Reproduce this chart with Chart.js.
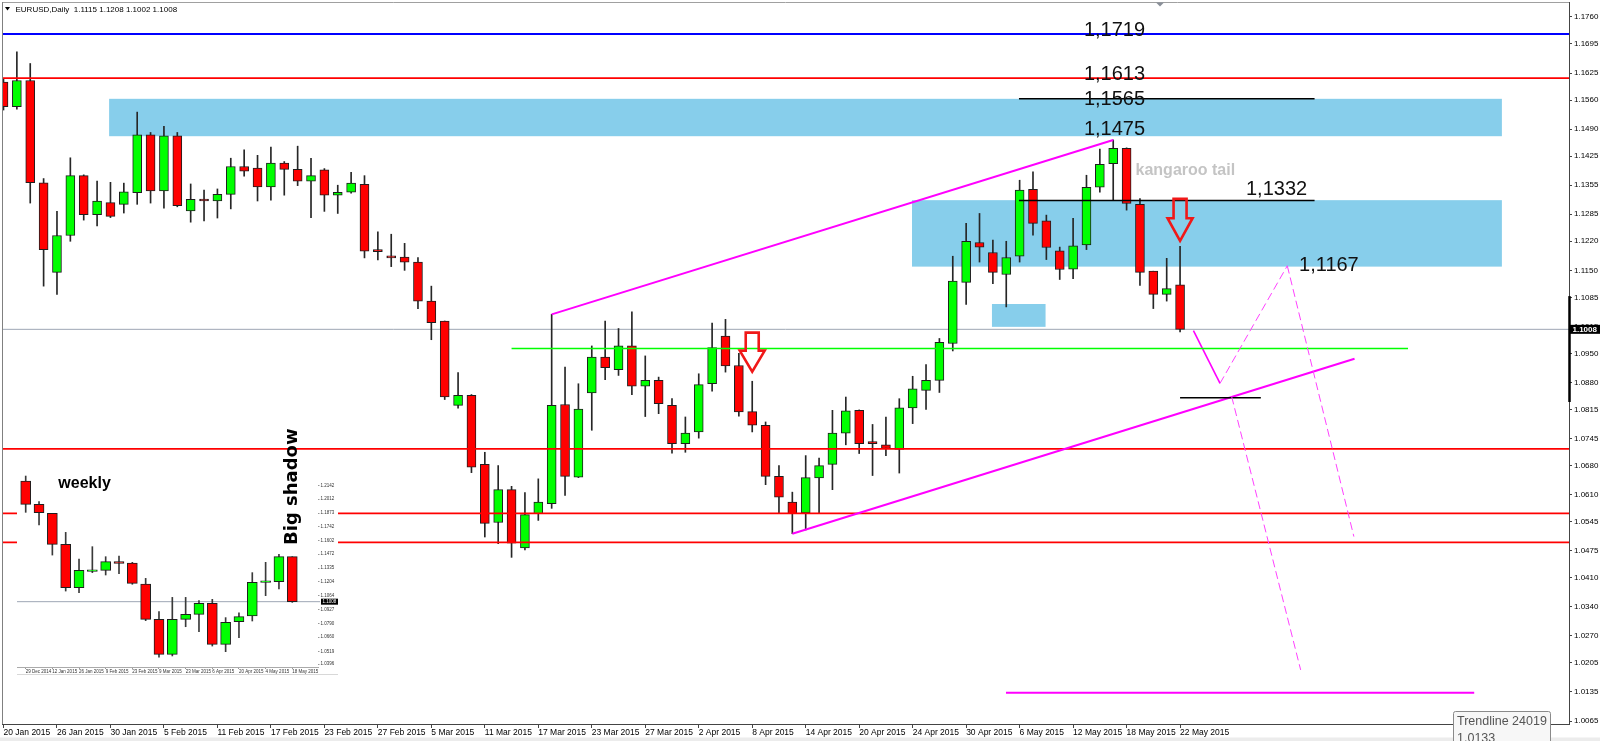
<!DOCTYPE html>
<html>
<head>
<meta charset="utf-8">
<title>EURUSD Daily</title>
<script src="https://cdn.jsdelivr.net/npm/chart.js@4.4.1/dist/chart.umd.min.js"></script>
<style>
  html, body { margin: 0; padding: 0; background: #fff; overflow: hidden; }
  #wrap { position: relative; width: 1600px; height: 741px; }
  #main { position: absolute; left: 0; top: 0; }
  #weekly { position: absolute; left: 17px; top: 420px; }
</style>
</head>
<body>
<div id="wrap">
  <canvas id="main" width="1600" height="741"></canvas>
  <canvas id="weekly" width="321" height="255"></canvas>
</div>
<script>
// ---- daily bars, 20 Jan 2015 .. 22 May 2015 ----
const dates = [
  "20 Jan 2015","21 Jan 2015","22 Jan 2015","23 Jan 2015","26 Jan 2015","27 Jan 2015","28 Jan 2015","29 Jan 2015",
  "30 Jan 2015","2 Feb 2015","3 Feb 2015","4 Feb 2015","5 Feb 2015","6 Feb 2015","9 Feb 2015","10 Feb 2015",
  "11 Feb 2015","12 Feb 2015","13 Feb 2015","16 Feb 2015","17 Feb 2015","18 Feb 2015","19 Feb 2015","20 Feb 2015",
  "23 Feb 2015","24 Feb 2015","25 Feb 2015","26 Feb 2015","27 Feb 2015","2 Mar 2015","3 Mar 2015","4 Mar 2015",
  "5 Mar 2015","6 Mar 2015","9 Mar 2015","10 Mar 2015","11 Mar 2015","12 Mar 2015","13 Mar 2015","16 Mar 2015",
  "17 Mar 2015","18 Mar 2015","19 Mar 2015","20 Mar 2015","23 Mar 2015","24 Mar 2015","25 Mar 2015","26 Mar 2015",
  "27 Mar 2015","30 Mar 2015","31 Mar 2015","1 Apr 2015","2 Apr 2015","3 Apr 2015","6 Apr 2015","7 Apr 2015",
  "8 Apr 2015","9 Apr 2015","10 Apr 2015","13 Apr 2015","14 Apr 2015","15 Apr 2015","16 Apr 2015","17 Apr 2015",
  "20 Apr 2015","21 Apr 2015","22 Apr 2015","23 Apr 2015","24 Apr 2015","27 Apr 2015","28 Apr 2015","29 Apr 2015",
  "30 Apr 2015","1 May 2015","4 May 2015","5 May 2015","6 May 2015","7 May 2015","8 May 2015","11 May 2015",
  "12 May 2015","13 May 2015","14 May 2015","15 May 2015","18 May 2015","19 May 2015","20 May 2015","21 May 2015",
  "22 May 2015"
];
const open = [
  1.1603,1.1544,1.1607,1.1361,1.1145,1.1234,1.1378,1.1284,1.1313,1.1309,1.1337,1.1476,1.1341,1.1474,1.1293,1.1321,
  1.1317,1.1333,1.1400,1.1396,1.1351,1.1408,1.1393,1.1365,1.1392,1.1331,1.1338,1.1357,1.1197,1.1182,1.1182,1.1170,
  1.1076,1.1028,1.0825,1.0849,1.0683,1.0543,1.0622,1.0482,1.0564,1.0588,1.0827,1.0652,1.0855,1.0941,1.0911,1.0968,
  1.0871,1.0885,1.0825,1.0733,1.0761,1.0877,1.0992,1.0921,1.0810,1.0777,1.0654,1.0592,1.0566,1.0650,1.0683,1.0758,
  1.0813,1.0738,1.0730,1.0719,1.0819,1.0861,1.0885,1.0974,1.1121,1.1217,1.1193,1.1140,1.1184,1.1345,1.1269,1.1197,
  1.1153,1.1211,1.1350,1.1407,1.1444,1.1309,1.1148,1.1092,1.1115
];
const high = [
  1.1611,1.1676,1.1648,1.1371,1.1292,1.1421,1.1380,1.1365,1.1362,1.1360,1.1531,1.1482,1.1497,1.1482,1.1358,1.1343,
  1.1346,1.1420,1.1440,1.1427,1.1447,1.1412,1.1449,1.1420,1.1395,1.1355,1.1386,1.1378,1.1243,1.1237,1.1215,1.1181,
  1.1112,1.1028,1.0904,1.0851,1.0712,1.0680,1.0630,1.0615,1.0648,1.1044,1.0917,1.0877,1.0968,1.1028,1.1010,1.1050,
  1.0944,1.0893,1.0841,1.0797,1.0901,1.1023,1.1032,1.0950,1.0883,1.0785,1.0680,1.0616,1.0704,1.0698,1.0813,1.0845,
  1.0814,1.0779,1.0797,1.0841,1.0895,1.0923,1.0986,1.1184,1.1263,1.1287,1.1223,1.1220,1.1367,1.1387,1.1283,1.1206,
  1.1275,1.1379,1.1442,1.1464,1.1445,1.1323,1.1148,1.1179,1.1208
];
const low = [
  1.1536,1.1538,1.1312,1.1112,1.1092,1.1220,1.1271,1.1257,1.1277,1.1288,1.1309,1.1312,1.1300,1.1303,1.1266,1.1269,
  1.1276,1.1298,1.1377,1.1317,1.1319,1.1331,1.1354,1.1277,1.1292,1.1287,1.1336,1.1180,1.1175,1.1159,1.1150,1.1058,
  1.0983,1.0839,1.0818,1.0663,1.0508,1.0492,1.0459,1.0477,1.0548,1.0577,1.0608,1.0651,1.0765,1.0887,1.0897,1.0851,
  1.0798,1.0805,1.0710,1.0712,1.0746,1.0859,1.0905,1.0799,1.0761,1.0634,1.0564,1.0516,1.0525,1.0565,1.0622,1.0730,
  1.0709,1.0656,1.0704,1.0662,1.0781,1.0815,1.0856,1.0956,1.1068,1.1170,1.1118,1.1062,1.1170,1.1235,1.1176,1.1128,
  1.1130,1.1200,1.1338,1.1319,1.1295,1.1114,1.1058,1.1076,1.1002
];
const close = [
  1.1544,1.1607,1.1361,1.1200,1.1234,1.1378,1.1284,1.1317,1.1280,1.1339,1.1476,1.1341,1.1474,1.1306,1.1321,1.1317,
  1.1333,1.1400,1.1389,1.1351,1.1408,1.1393,1.1365,1.1378,1.1331,1.1338,1.1360,1.1196,1.1195,1.1180,1.1170,1.1076,
  1.1024,1.0845,1.0849,1.0676,1.0541,1.0622,1.0493,1.0562,1.0592,1.0825,1.0654,1.0816,1.0941,1.0916,1.0968,1.0871,
  1.0885,1.0829,1.0733,1.0758,1.0875,1.0964,1.0920,1.0809,1.0777,1.0654,1.0604,1.0564,1.0651,1.0680,1.0758,1.0812,
  1.0733,1.0733,1.0721,1.0819,1.0865,1.0885,1.0977,1.1124,1.1220,1.1206,1.1145,1.1181,1.1343,1.1263,1.1205,1.1152,
  1.1209,1.1350,1.1405,1.1444,1.1311,1.1145,1.1092,1.1106,1.1008
];
const priceTicks = [
  1.1760,1.1695,1.1625,1.1560,1.1490,1.1425,1.1355,1.1285,1.1220,1.1150,1.1085,1.1015,1.0950,
  1.0880,1.0815,1.0745,1.0680,1.0610,1.0545,1.0475,1.0410,1.0340,1.0270,1.0205,1.0135,1.0065
];
const dateTicks = [0,4,8,12,16,20,24,28,32,36,40,44,48,52,56,60,64,68,72,76,80,84,88];
const lastPrice = 1.1008;

// ---- weekly inset ----
const wDates = [
  "29 Dec 2014","5 Jan 2015","12 Jan 2015","19 Jan 2015","26 Jan 2015","2 Feb 2015","9 Feb 2015",
  "16 Feb 2015","23 Feb 2015","2 Mar 2015","9 Mar 2015","16 Mar 2015","23 Mar 2015","30 Mar 2015",
  "6 Apr 2015","13 Apr 2015","20 Apr 2015","27 Apr 2015","4 May 2015","11 May 2015","18 May 2015"
];
const wOpen  = [1.2188,1.1960,1.1872,1.1569,1.1145,1.1305,1.1314,1.1399,1.1386,1.1181,1.0835,1.0493,1.0835,1.0884,1.0992,1.0591,1.0812,1.0868,1.1197,1.1204,1.1448];
const wHigh  = [1.2237,1.1986,1.1872,1.1686,1.1425,1.1546,1.1448,1.1455,1.1393,1.1236,1.0910,1.1050,1.1050,1.1018,1.1031,1.0852,1.0900,1.1292,1.1393,1.1471,1.1448];
const wLow   = [1.1882,1.1758,1.1464,1.1112,1.1096,1.1292,1.1269,1.1282,1.1178,1.0822,1.0464,1.0477,1.0763,1.0715,1.0574,1.0519,1.0656,1.0819,1.1067,1.1132,1.1001];
const wClose = [1.1960,1.1878,1.1569,1.1145,1.1314,1.1312,1.1399,1.1383,1.1187,1.0835,1.0493,1.0835,1.0884,1.0992,1.0591,1.0806,1.0861,1.1197,1.1200,1.1448,1.1008];
const wTicks = [1.2142,1.2012,1.1873,1.1742,1.1602,1.1472,1.1335,1.1204,1.1064,1.0927,1.0790,1.0660,1.0519,1.0396];
const wDateTicks = [0,2,4,6,8,10,12,14,16,18,20];

// ---- objects drawn on the daily chart (bar index, price) ----
const zones = [
  { from: 7.9,   to: 112.07, top: 1.1563, bottom: 1.1473 },
  { from: 67.95, to: 112.07, top: 1.1319, bottom: 1.1159 },
  { from: 73.93, to: 77.94,  top: 1.1069, bottom: 1.1014 }
];
const levels = [
  { price: 1.1719, color: "#0000ff" },
  { price: 1.1613, color: "#ff0000" },
  { price: 1.0720, color: "#ff0000" },
  { price: 1.0565, color: "#ff0000" },
  { price: 1.0495, color: "#ff0000" }
];
const trendlines = [
  { x0: 41,    p0: 1.1044, x1: 83,     p1: 1.1464, color: "#ff00ff", w: 2 },
  { x0: 59,    p0: 1.0516, x1: 101.05, p1: 1.0937, color: "#ff00ff", w: 2 },
  { x0: 89.0,  p0: 1.1005, x1: 90.99,  p1: 1.0878, color: "#ff00ff", w: 1.6 },
  { x0: 74.98, p0: 1.0133, x1: 110.0,  p1: 1.0133, color: "#ff00ff", w: 2 },
  { x0: 38.0,  p0: 1.0962, x1: 105.05, p1: 1.0962, color: "#00ff00", w: 1.5 },
  { x0: 75.95, p0: 1.1563, x1: 98.06,  p1: 1.1563, color: "#000000", w: 1.5 },
  { x0: 75.95, p0: 1.1318, x1: 98.06,  p1: 1.1318, color: "#000000", w: 1.5 },
  { x0: 88.0,  p0: 1.0843, x1: 94.04,  p1: 1.0843, color: "#000000", w: 1.5 }
];
const dashedLines = [
  { x0: 90.99, p0: 1.0878, x1: 96.02, p1: 1.1161 },
  { x0: 96.02, p0: 1.1161, x1: 101.0, p1: 1.0509 },
  { x0: 91.86, p0: 1.0846, x1: 97.02, p1: 1.0188 }
];
const arrows = [
  { x: 56, top: 1.1000, tip: 1.0906 },
  { x: 88, top: 1.1322, tip: 1.1221 }
];
const notes = [
  { text: "1,1719", x: 80.81, p: 1.17135 },
  { text: "1,1613", x: 80.81, p: 1.16090 },
  { text: "1,1565", x: 80.81, p: 1.15481 },
  { text: "1,1475", x: 80.81, p: 1.14759 },
  { text: "1,1332", x: 92.93, p: 1.13322 },
  { text: "1,1167", x: 96.9,  p: 1.11492 }
];

const F = '"Liberation Sans", Arial, sans-serif';
Chart.defaults.font.family = F;
const upColor = "#00ff00";
const downColor = "#ff0000";

function seg(ctx, x0, y0, x1, y1, color, width, dash) {
  ctx.save();
  ctx.strokeStyle = color;
  ctx.lineWidth = width;
  ctx.setLineDash(dash || []);
  ctx.beginPath();
  ctx.moveTo(x0, y0);
  ctx.lineTo(x1, y1);
  ctx.stroke();
  ctx.restore();
}

function clipArea(ctx, a) {
  ctx.beginPath();
  ctx.rect(a.left, a.top, a.right - a.left, a.bottom - a.top);
  ctx.clip();
}

const drawings = {
  id: "drawings",
  beforeDatasetsDraw(chart) {
    const { ctx, chartArea: a, scales: { x, y } } = chart;
    ctx.save();
    clipArea(ctx, a);
    ctx.fillStyle = "#87ceeb";
    zones.forEach(z => {
      const x0 = x.getPixelForValue(z.from), x1 = x.getPixelForValue(z.to);
      const y0 = y.getPixelForValue(z.top), y1 = y.getPixelForValue(z.bottom);
      ctx.fillRect(x0, y0, x1 - x0, y1 - y0);
    });
    const yc = y.getPixelForValue(lastPrice);
    seg(ctx, a.left, yc, a.right, yc, "#9ea6b4", 1);
    ctx.restore();
  },
  afterDatasetsDraw(chart) {
    const { ctx, chartArea: a, scales: { x, y } } = chart;
    ctx.save();
    clipArea(ctx, a);

    levels.forEach(l => {
      const yy = y.getPixelForValue(l.price);
      seg(ctx, a.left, yy, a.right, yy, l.color, 1.8);
    });
    trendlines.forEach(t => {
      seg(ctx, x.getPixelForValue(t.x0), y.getPixelForValue(t.p0),
        x.getPixelForValue(t.x1), y.getPixelForValue(t.p1), t.color, t.w);
    });
    dashedLines.forEach(t => {
      seg(ctx, x.getPixelForValue(t.x0), y.getPixelForValue(t.p0),
        x.getPixelForValue(t.x1), y.getPixelForValue(t.p1), "#ff40ff", 1, [8, 4]);
    });

    // hollow down arrows
    arrows.forEach(ar => {
      const cx = x.getPixelForValue(ar.x);
      const top = y.getPixelForValue(ar.top), tip = y.getPixelForValue(ar.tip);
      const sb = top + (tip - top) * 0.46;
      const hw = 12.5, sw = 6.5;
      ctx.save();
      ctx.strokeStyle = "#f01818";
      ctx.lineWidth = 2.6;
      ctx.lineJoin = "miter";
      ctx.beginPath();
      ctx.moveTo(cx - sw, top);
      ctx.lineTo(cx + sw, top);
      ctx.lineTo(cx + sw, sb);
      ctx.lineTo(cx + hw, sb);
      ctx.lineTo(cx, tip);
      ctx.lineTo(cx - hw, sb);
      ctx.lineTo(cx - sw, sb);
      ctx.closePath();
      ctx.stroke();
      ctx.restore();
    });

    ctx.fillStyle = "#111";
    ctx.font = "20px " + F;
    ctx.textAlign = "left";
    ctx.textBaseline = "alphabetic";
    notes.forEach(n => ctx.fillText(n.text, x.getPixelForValue(n.x), y.getPixelForValue(n.p)));

    ctx.fillStyle = "#c4c4c4";
    ctx.font = "bold 16px " + F;
    ctx.fillText("kangaroo tail", x.getPixelForValue(84.67), y.getPixelForValue(1.13789));
    ctx.restore();
  },
  afterDraw(chart) {
    const { ctx, chartArea: a, scales: { y } } = chart;
    ctx.save();
    // frame
    seg(ctx, a.left, a.top + 0.5, a.right, a.top + 0.5, "#a0a0a0", 1);
    seg(ctx, a.left + 0.5, a.top, a.left + 0.5, a.bottom, "#808080", 1);

    // chart shift marker
    ctx.fillStyle = "#8a8f99";
    ctx.beginPath();
    ctx.moveTo(1156, 2.5); ctx.lineTo(1164, 2.5); ctx.lineTo(1160, 6.5);
    ctx.closePath(); ctx.fill();

    // title
    ctx.fillStyle = "#000";
    ctx.beginPath();
    ctx.moveTo(5, 7); ctx.lineTo(10, 7); ctx.lineTo(7.5, 10.5);
    ctx.closePath(); ctx.fill();
    ctx.font = "8px " + F;
    ctx.textAlign = "left";
    ctx.textBaseline = "alphabetic";
    ctx.fillText("EURUSD,Daily  1.1115 1.1208 1.1002 1.1008", 15.5, 11.5);

    // selected-object range bar on the price axis
    seg(ctx, a.right + 0.5, y.getPixelForValue(1.1088), a.right + 0.5, y.getPixelForValue(1.0833), "#000", 2.5);

    // current price box
    const yc = y.getPixelForValue(lastPrice);
    ctx.fillStyle = "#000";
    ctx.fillRect(a.right + 1, yc - 4.5, 30, 9);
    ctx.fillStyle = "#fff";
    ctx.font = "bold 8px " + F;
    ctx.fillText(lastPrice.toFixed(4), a.right + 3.5, yc + 3);

    // bottom strip
    ctx.fillStyle = "#ececec";
    ctx.fillRect(0, 737.5, 1600, 4);

    // object tooltip
    ctx.fillStyle = "#f7f7f7";
    ctx.strokeStyle = "#8a8a8a";
    ctx.lineWidth = 1;
    ctx.beginPath();
    ctx.roundRect(1453.5, 711.5, 97, 40, 2);
    ctx.fill(); ctx.stroke();
    ctx.fillStyle = "#555";
    ctx.font = "12.5px " + F;
    ctx.fillText("Trendline 24019", 1457, 725);
    ctx.fillText("1.0133", 1457, 742);
    ctx.restore();
  }
};

const mainChart = new Chart(document.getElementById("main"), {
  type: "bar",
  data: {
    datasets: [
      {
        label: "wick",
        data: dates.map((d, i) => ({ x: i, y: [low[i], high[i]] })),
        backgroundColor: "#262626",
        grouped: false,
        barPercentage: 1,
        categoryPercentage: 1,
        maxBarThickness: 1,
        order: 2
      },
      {
        label: "body",
        data: dates.map((d, i) => ({ x: i, y: [open[i], close[i]] })),
        backgroundColor: close.map((c, i) => (c >= open[i] ? upColor : downColor)),
        borderColor: "#1e1e1e",
        borderWidth: 1,
        borderSkipped: false,
        grouped: false,
        barPercentage: 1,
        categoryPercentage: 1,
        maxBarThickness: 9,
        minBarLength: 2,
        order: 1
      }
    ]
  },
  options: {
    responsive: false,
    animation: false,
    devicePixelRatio: 1,
    events: [],
    layout: { padding: { left: 2, top: 2, right: 0, bottom: 0 } },
    plugins: { legend: { display: false }, tooltip: { enabled: false } },
    scales: {
      x: {
        type: "linear",
        position: "bottom",
        min: -0.112,
        max: 117.09,
        bounds: "data",
        offset: false,
        afterBuildTicks: s => { s.ticks = dateTicks.map(v => ({ value: v })); },
        afterFit: s => { s.height = 17; s.paddingLeft = 0; s.paddingRight = 0; },
        ticks: {
          callback: v => dates[v] || "",
          autoSkip: false,
          maxRotation: 0,
          align: "start",
          padding: 0,
          color: "#000",
          font: { size: 8.5 }
        },
        grid: { drawOnChartArea: false, offset: false, tickLength: 4, color: "#444" },
        border: { color: "#444" }
      },
      y: {
        type: "linear",
        position: "right",
        min: 1.00578,
        max: 1.17961,
        bounds: "data",
        afterBuildTicks: s => { s.ticks = priceTicks.map(v => ({ value: v })); },
        afterFit: s => { s.width = 31; s.paddingTop = 0; s.paddingBottom = 0; },
        ticks: {
          callback: v => v.toFixed(4),
          autoSkip: false,
          padding: 2,
          color: "#000",
          font: { size: 8 }
        },
        grid: { drawOnChartArea: false, tickLength: 3, color: "#444" },
        border: { color: "#444" }
      }
    }
  },
  plugins: [drawings]
});

// ---- weekly inset (canvas top at y=420, white panel from y=456) ----
const insetDrawings = {
  id: "insetDrawings",
  beforeDraw(chart) {
    const { ctx, width, height, chartArea: a } = chart;
    ctx.save();
    ctx.fillStyle = "#fff";
    ctx.fillRect(0, a.top, width, height - a.top);
    ctx.restore();
  },
  beforeDatasetsDraw(chart) {
    const { ctx, chartArea: a, scales: { y } } = chart;
    const yc = y.getPixelForValue(lastPrice);
    seg(ctx, a.left, yc, a.right + 2, yc, "#9ea6b4", 1);
  },
  afterDraw(chart) {
    const { ctx, width, height, chartArea: a, scales: { y } } = chart;
    ctx.save();
    const yc = y.getPixelForValue(lastPrice);
    ctx.fillStyle = "#000";
    ctx.fillRect(a.right + 3, yc - 3, 17, 6);
    ctx.fillStyle = "#fff";
    ctx.font = "4.5px " + F;
    ctx.textBaseline = "middle";
    ctx.fillText(lastPrice.toFixed(4), a.right + 4.5, yc);
    seg(ctx, 0, height - 0.5, width, height - 0.5, "#d8d8d8", 1);

    ctx.fillStyle = "#000";
    ctx.textBaseline = "alphabetic";
    ctx.font = "bold 16px " + F;
    ctx.fillText("weekly", 41.3, a.top + 32.4);

    ctx.translate(279.5, a.top + 89);
    ctx.rotate(-Math.PI / 2);
    ctx.font = 'bold 18px "DejaVu Sans", sans-serif';
    ctx.fillText("Big shadow", 0, 0);
    ctx.restore();
  }
};

const weeklyChart = new Chart(document.getElementById("weekly"), {
  type: "bar",
  data: {
    datasets: [
      {
        label: "wick",
        data: wDates.map((d, i) => ({ x: i, y: [wLow[i], wHigh[i]] })),
        backgroundColor: "#3a3a3a",
        grouped: false,
        barPercentage: 1,
        categoryPercentage: 1,
        maxBarThickness: 1,
        order: 2
      },
      {
        label: "body",
        data: wDates.map((d, i) => ({ x: i, y: [wOpen[i], wClose[i]] })),
        backgroundColor: wClose.map((c, i) => (c >= wOpen[i] ? upColor : downColor)),
        borderColor: "#1e1e1e",
        borderWidth: 1,
        borderSkipped: false,
        grouped: false,
        barPercentage: 1,
        categoryPercentage: 1,
        maxBarThickness: 10,
        minBarLength: 1.5,
        order: 1
      }
    ]
  },
  options: {
    responsive: false,
    animation: false,
    devicePixelRatio: 1,
    events: [],
    layout: { padding: { left: 0, top: 36, right: 0, bottom: 0 } },
    plugins: { legend: { display: false }, tooltip: { enabled: false } },
    scales: {
      x: {
        type: "linear",
        min: -0.653,
        max: 21.93,
        bounds: "data",
        offset: false,
        afterBuildTicks: s => { s.ticks = wDateTicks.map(v => ({ value: v })); },
        afterFit: s => { s.height = 8; s.paddingLeft = 0; s.paddingRight = 0; },
        ticks: {
          callback: v => wDates[v] || "",
          autoSkip: false,
          maxRotation: 0,
          align: "start",
          padding: 0,
          color: "#333",
          font: { size: 4.5 }
        },
        grid: { drawOnChartArea: false, offset: false, tickLength: 2, color: "#999" },
        border: { color: "#aaa" }
      },
      y: {
        type: "linear",
        position: "right",
        min: 1.0369,
        max: 1.2433,
        bounds: "data",
        afterBuildTicks: s => { s.ticks = wTicks.map(v => ({ value: v })); },
        afterFit: s => { s.width = 20; s.paddingTop = 0; s.paddingBottom = 0; },
        ticks: {
          callback: v => v.toFixed(4),
          autoSkip: false,
          padding: 1,
          color: "#333",
          font: { size: 4.5 }
        },
        grid: { drawOnChartArea: false, tickLength: 1.5, color: "#999" },
        border: { display: false }
      }
    }
  },
  plugins: [insetDrawings]
});
</script>
</body>
</html>
